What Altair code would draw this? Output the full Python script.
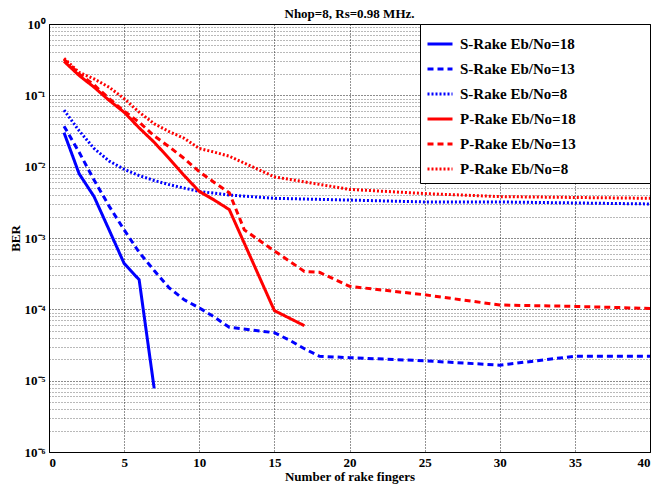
import altair as alt
import pandas as pd

series_names = [
    "S-Rake Eb/No=18",
    "S-Rake Eb/No=13",
    "S-Rake Eb/No=8",
    "P-Rake Eb/No=18",
    "P-Rake Eb/No=13",
    "P-Rake Eb/No=8",
]

x_s18 = [1, 2, 3, 4, 5, 6, 7]
y_s18 = [0.030, 0.0080, 0.0038, 0.0013, 0.00044, 0.00026, 0.0000078]

x_s13 = [1, 2, 3, 4, 5, 6, 7, 8, 9, 10, 11, 12, 15, 16, 17, 18, 20, 25, 30, 35, 40]
y_s13 = [0.037, 0.016, 0.0065, 0.0028, 0.0013, 0.00063, 0.00035, 0.00020, 0.000136,
         0.000105, 0.000078, 0.000056, 0.000047, 0.000037, 0.000028, 0.000022,
         0.000021, 0.000019, 0.0000165, 0.000022, 0.000022]

x_s8 = [1, 2, 3, 4, 5, 6, 7, 8, 9, 10, 12, 15, 20, 25, 30, 35, 40]
y_s8 = [0.062, 0.032, 0.018, 0.012, 0.0092, 0.0075, 0.0064, 0.0056, 0.0050, 0.0045,
        0.0040, 0.0036, 0.0034, 0.0032, 0.0032, 0.0031, 0.0030]

x_p18 = [1, 2, 3, 4, 5, 6, 7, 8, 9, 10, 11, 12, 15, 17]
y_p18 = [0.30, 0.19, 0.13, 0.085, 0.058, 0.035, 0.022, 0.013, 0.0075, 0.0045,
         0.0034, 0.0025, 0.000096, 0.000059]

x_p13 = [1, 2, 3, 4, 5, 6, 7, 8, 9, 10, 11, 12, 13, 15, 17, 18, 20, 25, 30, 35, 40]
y_p13 = [0.32, 0.20, 0.14, 0.09, 0.060, 0.042, 0.027, 0.019, 0.013, 0.0085, 0.0060,
         0.0043, 0.0013, 0.00066, 0.00034, 0.00033, 0.00021, 0.00016, 0.000115,
         0.00011, 0.000103]

x_p8 = [1, 2, 3, 4, 5, 6, 7, 8, 9, 10, 11, 12, 15, 20, 25, 30, 35, 40]
y_p8 = [0.33, 0.21, 0.17, 0.13, 0.09, 0.058, 0.040, 0.031, 0.025, 0.018, 0.016,
        0.014, 0.0072, 0.0048, 0.0042, 0.0038, 0.0037, 0.0036]

x_ticks = [0, 5, 10, 15, 20, 25, 30, 35, 40]
y_ticks = [m * 10.0 ** e for e in range(-6, 0) for m in range(1, 10)] + [1.0]

colors = ["#0000ff", "#0000ff", "#0000ff", "#ff0000", "#ff0000", "#ff0000"]
dashes = [[1, 0], [6, 4], [2, 2], [1, 0], [6, 4], [2, 2]]

all_x = [x_s18, x_s13, x_s8, x_p18, x_p13, x_p8]
all_y = [y_s18, y_s13, y_s8, y_p18, y_p13, y_p8]

rows = []
for name, xs, ys in zip(series_names, all_x, all_y):
    for xv, yv in zip(xs, ys):
        rows.append({"series": name, "fingers": xv, "ber": yv})
df = pd.DataFrame(rows)

FONT = "Liberation Serif"
is_decade = "abs(log(datum.value)/LN10 - round(log(datum.value)/LN10)) < 0.001"
sup = "['\u2070','\u207b\u00b9','\u207b\u00b2','\u207b\u00b3','\u207b\u2074','\u207b\u2075','\u207b\u2076']"
label_expr = f"{is_decade} ? '10' + {sup}[-round(log(datum.value)/LN10)] : ''"
pad_text = "\u00a0" * 18 + "\u200b"

legend_cfg = dict(
    title=None,
    orient="top-right",
    offset=0,
    fillColor="white",
    strokeColor="black",
    padding=6,
    symbolType="stroke",
    symbolSize=625,
    symbolStrokeWidth=3,
    labelFont=FONT,
    labelFontSize=15,
    labelFontWeight="bold",
    labelColor="black",
    labelOffset=6,
    rowPadding=3,
    labelLimit=400,
    labelExpr=f"datum.label + '{pad_text}'",
)

chart = alt.Chart(df).mark_line(strokeWidth=3, clip=True).encode(
    x=alt.X(
        "fingers:Q",
        scale=alt.Scale(domain=[0, 40], nice=False),
        axis=alt.Axis(
            title="Number of rake fingers",
            values=x_ticks,
            grid=True,
            gridDash=[1, 2],
            gridColor="#000000",
            gridOpacity=0.85,
            ticks=False,
            labelPadding=4,
            titlePadding=1,
        ),
    ),
    y=alt.Y(
        "ber:Q",
        scale=alt.Scale(type="log", domain=[1e-6, 1], nice=False),
        axis=alt.Axis(
            title="BER",
            values=y_ticks,
            grid=True,
            gridDash=[1, 2],
            gridColor="#000000",
            gridOpacity={"condition": {"test": is_decade, "value": 0.9}, "value": 0.55},
            ticks=False,
            labelExpr=label_expr,
            labelPadding=4,
            titlePadding=2,
        ),
    ),
    color=alt.Color(
        "series:N",
        scale=alt.Scale(domain=series_names, range=colors),
        legend=alt.Legend(**legend_cfg),
    ),
    strokeDash=alt.StrokeDash(
        "series:N",
        scale=alt.Scale(domain=series_names, range=dashes),
        legend=alt.Legend(**legend_cfg),
    ),
).properties(
    width=601,
    height=428,
    padding={"left": 49, "top": 24, "right": 5, "bottom": 37},
    autosize=alt.AutoSizeParams(type="none"),
    title=alt.Title(
        "Nhop=8, Rs=0.98 MHz.",
        font=FONT,
        fontSize=13,
        fontWeight="bold",
        color="black",
        anchor="middle",
        offset=2,
        dy=5,
    ),
).configure_view(
    stroke="black", strokeWidth=1
).configure_axis(
    labelFont=FONT,
    labelFontSize=13,
    labelFontWeight="bold",
    labelColor="black",
    titleFont=FONT,
    titleFontSize=13,
    titleFontWeight="bold",
    titleColor="black",
    domainColor="black",
)

chart.save("out.html", embed_options={"renderer": "svg", "actions": False})
